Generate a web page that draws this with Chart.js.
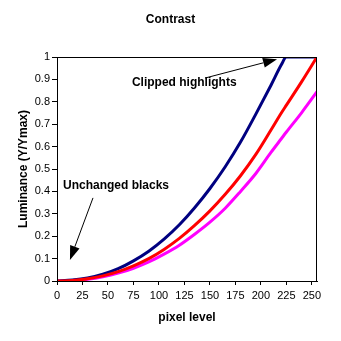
<!DOCTYPE html>
<html>
<head>
<meta charset="utf-8">
<style>
  html, body { margin: 0; padding: 0; background: #ffffff; }
  #wrap { width: 341px; height: 341px; }
</style>
<script src="https://cdn.jsdelivr.net/npm/chart.js@4/dist/chart.umd.min.js"></script>
</head>
<body>
<div id="wrap"><canvas id="c" width="341" height="341"></canvas></div>
<script>
// Pixel levels sampled along each tone curve
const levels = [0, 15, 30, 45, 60, 75, 90, 105, 120, 135, 150, 165, 180, 195, 210, 220, 225, 240, 255];

// Relative luminance for each curve
const normalCurve  = [0, 0.002, 0.010, 0.023, 0.042, 0.068, 0.100, 0.141, 0.190, 0.248, 0.313, 0.387, 0.470, 0.565, 0.675, 0.750, 0.785, 0.890, 1.000];
const highContrast = [0, 0.004, 0.013, 0.030, 0.055, 0.090, 0.133, 0.187, 0.251, 0.327, 0.413, 0.510, 0.620, 0.745, 0.875, 0.965, 1.000, 1.000, 1.000];
const lowContrast  = [0, 0.002, 0.008, 0.019, 0.035, 0.057, 0.085, 0.120, 0.160, 0.209, 0.263, 0.325, 0.400, 0.480, 0.575, 0.635, 0.665, 0.752, 0.845];

// Axis ticks
const xTicks = [0, 25, 50, 75, 100, 125, 150, 175, 200, 225, 250];
const yTicks = [0, 0.1, 0.2, 0.3, 0.4, 0.5, 0.6, 0.7, 0.8, 0.9, 1];

// Text
const chartTitle = 'Contrast';
const xTitle = 'pixel level';
const yTitle = 'Luminance (Y/Ymax)';

// Callouts, anchored in data units: [label, textX, textY, tailX, tailY, tipX, tipY]
const callouts = [
  ['Clipped highlights', 73.5, 0.884, 145.2, 0.906, 215.8, 0.990],
  ['Unchanged blacks',    5.9, 0.424,  35.3, 0.371,  12.7, 0.094]
];

const FONT = "'Liberation Sans', Arial, sans-serif";

function pts(ys) { return levels.map((x, i) => ({ x: x, y: ys[i] })); }

const decorations = {
  id: 'decorations',
  afterDatasetsDraw(chart) {
    const ctx = chart.ctx;
    const a = chart.chartArea;
    const xs = chart.scales.x, ys = chart.scales.y;
    ctx.save();
    // plot frame
    ctx.strokeStyle = '#000';
    ctx.lineWidth = 1;
    ctx.strokeRect(Math.round(a.left) + 0.5, Math.round(a.top) + 0.5,
                   Math.round(a.right - a.left) - 1, Math.round(a.bottom - a.top));

    // titles
    ctx.fillStyle = '#000';
    ctx.font = 'bold 12px ' + FONT;
    ctx.textAlign = 'center';
    ctx.textBaseline = 'middle';
    ctx.fillText(chartTitle, chart.width / 2, 20);
    ctx.fillText(xTitle, (a.left + a.right) / 2, 318);
    ctx.save();
    ctx.translate(24, (a.top + a.bottom) / 2);
    ctx.rotate(-Math.PI / 2);
    ctx.fillText(yTitle, 0, 0);
    ctx.restore();

    // callouts with arrows
    callouts.forEach(c => {
      const [label, tx, ty, ax, ay, bx, by] = c;
      ctx.font = 'bold 12px ' + FONT;
      ctx.textAlign = 'left';
      ctx.textBaseline = 'middle';
      ctx.fillText(label, xs.getPixelForValue(tx), ys.getPixelForValue(ty));
      const x1 = xs.getPixelForValue(ax), y1 = ys.getPixelForValue(ay);
      const x2 = xs.getPixelForValue(bx), y2 = ys.getPixelForValue(by);
      const ang = Math.atan2(y2 - y1, x2 - x1);
      const headLen = 14, headW = 5;
      const hx = x2 - headLen * Math.cos(ang), hy = y2 - headLen * Math.sin(ang);
      ctx.beginPath();
      ctx.moveTo(x1, y1);
      ctx.lineTo(hx, hy);
      ctx.lineWidth = 1;
      ctx.stroke();
      ctx.beginPath();
      ctx.moveTo(x2, y2);
      ctx.lineTo(hx + headW * Math.sin(ang), hy - headW * Math.cos(ang));
      ctx.lineTo(hx - headW * Math.sin(ang), hy + headW * Math.cos(ang));
      ctx.closePath();
      ctx.fill();
    });
    ctx.restore();
  }
};

new Chart(document.getElementById('c'), {
  type: 'line',
  data: {
    datasets: [
      { label: 'normal', data: pts(normalCurve), borderColor: '#ff0000' },
      { label: 'high', data: pts(highContrast), borderColor: '#000080' },
      { label: 'low', data: pts(lowContrast), borderColor: '#ff00ff' }
    ].map(d => Object.assign(d, {
      borderWidth: 3,
      pointRadius: 0,
      fill: false,
      cubicInterpolationMode: 'monotone'
    }))
  },
  options: {
    responsive: false,
    animation: false,
    devicePixelRatio: 1,
    layout: { padding: { left: 0, right: 24, top: 57, bottom: 0 } },
    plugins: { legend: { display: false }, tooltip: { enabled: false }, title: { display: false } },
    scales: {
      x: {
        type: 'linear',
        min: 0, max: 255,
        afterFit: s => { s.height = 60; },
        afterBuildTicks: s => { s.ticks = xTicks.map(v => ({ value: v })); },
        grid: { drawOnChartArea: false, drawTicks: true, tickLength: 4, color: '#000' },
        border: { color: '#000', width: 1 },
        ticks: { color: '#000', font: { family: FONT, size: 11 }, padding: 4, maxRotation: 0,
                 callback: v => String(v) }
      },
      y: {
        type: 'linear',
        min: 0, max: 1,
        afterFit: s => { s.width = 57; },
        afterBuildTicks: s => { s.ticks = yTicks.map(v => ({ value: v })); },
        grid: { drawOnChartArea: false, drawTicks: true, tickLength: 5, color: '#000' },
        border: { color: '#000', width: 1 },
        ticks: { color: '#000', font: { family: FONT, size: 11 }, padding: 2,
                 callback: v => String(v) }
      }
    }
  },
  plugins: [decorations]
});
</script>
</body>
</html>
